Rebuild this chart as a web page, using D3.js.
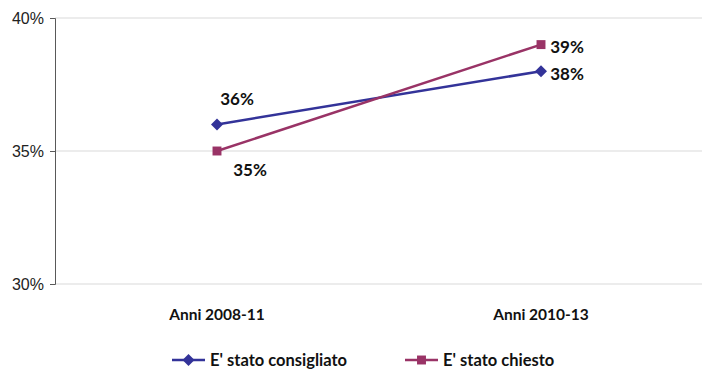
<!DOCTYPE html>
<html>
<head>
<meta charset="utf-8">
<script src="https://cdn.jsdelivr.net/npm/d3@7"></script>
<style>
  body { margin: 0; background: #fff; }
  svg { display: block; font-family: Lato, "Open Sans", sans-serif; }
</style>
</head>
<body>
<svg id="chart" width="702" height="372"></svg>
<script>
// Periods on the x axis
const categories = ["Anni 2008-11", "Anni 2010-13"];
// Share of respondents (%)
const consigliato = [36, 38];
const chiesto = [35, 39];
const yTicks = [30, 35, 40];

// Square diamond (rotated square), wider than d3.symbolDiamond
const squareDiamond = {
  draw(ctx, size) {
    const r = Math.sqrt(size / 2);
    ctx.moveTo(0, -r);
    ctx.lineTo(r, 0);
    ctx.lineTo(0, r);
    ctx.lineTo(-r, 0);
    ctx.closePath();
  }
};

const series = [
  { name: "E' stato consigliato", values: consigliato, color: "#333399", symbol: squareDiamond, size: 72,
    labelDx: [20, 26], labelDy: [-25, 3] },
  { name: "E' stato chiesto", values: chiesto, color: "#993366", symbol: d3.symbolSquare, size: 80,
    labelDx: [33, 26], labelDy: [19, 2] }
];

const svg = d3.select("#chart");
const margin = { left: 55, right: 0, top: 18, bottom: 88 };
const W = 702, H = 372;

const x = d3.scaleBand().domain(categories).range([margin.left, margin.left + 648]).padding(0);
const y = d3.scaleLinear().domain([30, 40]).range([H - margin.bottom, margin.top]);

// Gridlines
svg.append("g")
  .selectAll("line")
  .data(yTicks)
  .join("line")
  .attr("x1", margin.left).attr("x2", W)
  .attr("y1", d => y(d)).attr("y2", d => y(d))
  .attr("stroke", "#d9d9d9").attr("stroke-width", 1);

// Y axis
const yAxis = svg.append("g")
  .attr("transform", `translate(${margin.left},0)`)
  .call(d3.axisLeft(y).tickValues(yTicks).tickFormat(d => d + "%").tickSizeOuter(0).tickSize(5).tickPadding(6));
yAxis.select(".domain").attr("stroke", "#595959");
yAxis.selectAll(".tick line").attr("stroke", "#595959");
yAxis.selectAll("text").attr("font-size", 16).attr("fill", "#222");

// X category labels
svg.append("g")
  .selectAll("text")
  .data(categories)
  .join("text")
  .attr("x", d => x(d) + x.bandwidth() / 2)
  .attr("y", 320)
  .attr("text-anchor", "middle")
  .attr("font-size", 15.5)
  .attr("font-weight", "bold")
  .attr("fill", "#111")
  .text(d => d);

const line = d3.line()
  .x((d, i) => x(categories[i]) + x.bandwidth() / 2)
  .y(d => y(d));

series.forEach(s => {
  const g = svg.append("g");
  g.append("path")
    .datum(s.values)
    .attr("d", line)
    .attr("fill", "none")
    .attr("stroke", s.color)
    .attr("stroke-width", 2.5);
  g.selectAll("path.mark")
    .data(s.values)
    .join("path")
    .attr("class", "mark")
    .attr("transform", (d, i) => `translate(${x(categories[i]) + x.bandwidth() / 2},${y(d)})`)
    .attr("d", d3.symbol().type(s.symbol).size(s.size))
    .attr("fill", s.color);
  g.selectAll("text")
    .data(s.values)
    .join("text")
    .attr("x", (d, i) => x(categories[i]) + x.bandwidth() / 2 + s.labelDx[i])
    .attr("y", (d, i) => y(d) + s.labelDy[i])
    .attr("dy", "0.35em")
    .attr("text-anchor", "middle")
    .attr("font-size", 17)
    .attr("font-weight", "bold")
    .attr("fill", "#111")
    .text(d => d + "%");
});

// Legend
const legendX = [172, 405];
const legend = svg.append("g")
  .selectAll("g")
  .data(series)
  .join("g")
  .attr("transform", (d, i) => `translate(${legendX[i]},360)`);
legend.append("line")
  .attr("x1", 0).attr("x2", 33)
  .attr("stroke", d => d.color).attr("stroke-width", 2.5);
legend.append("path")
  .attr("transform", "translate(16.5,0)")
  .attr("d", d => d3.symbol().type(d.symbol).size(d.size)())
  .attr("fill", d => d.color);
legend.append("text")
  .attr("x", 38)
  .attr("dy", "0.35em")
  .attr("font-size", 16.5)
  .attr("font-weight", "bold")
  .attr("fill", "#111")
  .text(d => d.name);
</script>
</body>
</html>
